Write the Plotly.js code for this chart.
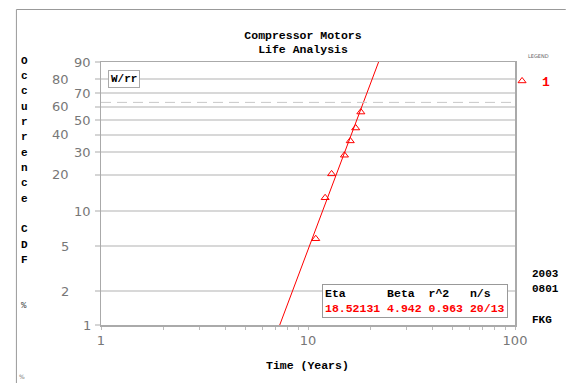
<!DOCTYPE html>
<html>
<head>
<meta charset="utf-8">
<script src="https://cdn.plot.ly/plotly-3.0.1.min.js"></script>
<style>html,body{margin:0;padding:0;background:#fff;}</style>
</head>
<body>
<div id="chart" style="width:567px;height:383px;"></div>
<script>
// ---- data ----
const failTimes = [10.9, 12.1, 13.0, 15.0, 16.0, 17.0, 18.0];      // years
const failCdf   = [5.8, 13.0, 20.4, 28.5, 36.3, 44.5, 55.9];        // occurrence CDF %
const eta = 18.52131;
const beta = 4.942;
const r2 = 0.963;
const nsLabel = "20/13";
const charLifePct = 63.2;
const yTicks = [1, 2, 5, 10, 20, 30, 40, 50, 60, 70, 80, 90];
const yTicksLeftCol = [2, 5, 20, 40, 60, 80];
const xTickVals = [1,2,3,4,5,6,7,8,9,10,20,30,40,50,60,70,80,90,100];
const xTickLabeled = [1, 10, 100];
const yTitleChars = ['O','c','c','u','r','r','e','n','c','e','','C','D','F','','','%'];
const sideNotes = ['2003', '0801', 'FKG'];

// Weibull probability scale
const wt = p => Math.log(-Math.log(1 - p / 100));
const lifeAt = p => eta * Math.pow(-Math.log(1 - p / 100), 1 / beta);

const mono = 'Liberation Mono, Courier New, monospace';
const sans = 'DejaVu Sans, Verdana, sans-serif';

const W = 567, H = 383;
const M = {l: 101, r: 50, t: 62, b: 58};
const pw = W - M.l - M.r, ph = H - M.t - M.b;
const px2x = px => (px - M.l) / pw;
const py2y = py => (H - M.b - py) / ph;

const fitP = [yTicks[0], yTicks[yTicks.length - 1]];

const traces = [
  {
    x: fitP.map(lifeAt), y: fitP.map(wt),
    mode: 'lines', line: {color: '#ff0000', width: 1},
    showlegend: false, hoverinfo: 'skip'
  },
  {
    x: failTimes, y: failCdf.map(wt),
    mode: 'markers', name: '1',
    marker: {symbol: 'triangle-up-open', size: 7, color: '#ff0000', line: {color: '#ff0000', width: 1}},
    showlegend: true
  }
];

const annotations = [];
yTicks.forEach(v => {
  const left = yTicksLeftCol.includes(v);
  annotations.push({
    xref: 'paper', yref: 'y', x: left ? px2x(71) : px2x(93), y: wt(v),
    xanchor: 'right', yanchor: 'middle', showarrow: false,
    text: String(v), font: {family: sans, size: 13, color: '#777'}
  });
});
yTitleChars.forEach((c, i) => {
  if (!c) return;
  const pct = c === '%';
  annotations.push({
    xref: 'paper', yref: 'paper', x: px2x(24), y: py2y(60.7 + i * 15.33),
    xanchor: 'center', yanchor: 'middle', showarrow: false,
    text: c, font: {family: mono, size: pct ? 9 : 11, weight: pct ? 'normal' : 'bold', color: pct ? '#444' : '#000'}
  });
});
const nbsp = s => s.replace(/ /g, '\u00a0');
annotations.push({
  xref: 'paper', yref: 'paper', x: px2x(323), y: py2y(284),
  xanchor: 'left', yanchor: 'top', showarrow: false, align: 'left',
  bordercolor: '#999', borderwidth: 1, borderpad: 2, bgcolor: '#fff',
  text: nbsp('Eta      Beta  r^2   n/s ') + '<br><span style="color:#ff0000">' +
        nbsp(eta.toFixed(5) + ' ' + beta.toFixed(3) + ' ' + r2.toFixed(3) + ' ' + nsLabel) + '</span>',
  font: {family: mono, size: 11.5, weight: 'bold', color: '#000'}
});
annotations.push({
  xref: 'paper', yref: 'paper', x: px2x(108), y: py2y(70),
  xanchor: 'left', yanchor: 'top', showarrow: false,
  bordercolor: '#aaa', borderwidth: 1, borderpad: 2, bgcolor: '#fff',
  text: 'W/rr', font: {family: mono, size: 11, weight: 'bold', color: '#000'}
});
const noteY = [274, 289, 320];
sideNotes.forEach((t, i) => {
  annotations.push({
    xref: 'paper', yref: 'paper', x: px2x(532), y: py2y(noteY[i]),
    xanchor: 'left', yanchor: 'middle', showarrow: false,
    text: t, font: {family: mono, size: 11, weight: 'bold', color: '#000'}
  });
});
annotations.push({
  xref: 'paper', yref: 'paper', x: px2x(528), y: py2y(56),
  xanchor: 'left', yanchor: 'middle', showarrow: false,
  text: 'LEGEND', font: {family: sans, size: 5, color: '#666'}
});
annotations.push({
  xref: 'paper', yref: 'paper', x: px2x(22), y: py2y(376),
  xanchor: 'center', yanchor: 'middle', showarrow: false,
  text: '%', font: {family: sans, size: 6, color: '#777'}
});
annotations.push({
  xref: 'paper', yref: 'paper', x: px2x(308), y: py2y(365),
  xanchor: 'center', yanchor: 'middle', showarrow: false,
  text: 'Time (Years)', font: {family: mono, size: 11.5, weight: 'bold', color: '#000'}
});

const layout = {
  width: W, height: H,
  margin: M,
  paper_bgcolor: '#fff', plot_bgcolor: '#fff',
  title: {
    text: 'Compressor Motors<br>Life Analysis',
    font: {family: mono, size: 11.5, weight: 'bold', color: '#000'},
    x: 303 / W, xanchor: 'center', xref: 'container',
    y: 1 - 38.5 / H, yanchor: 'middle', yref: 'container'
  },
  xaxis: {
    type: 'log', range: [0, 2],
    tickmode: 'array', tickvals: xTickVals,
    ticktext: xTickVals.map(v => xTickLabeled.includes(v) ? String(v) : ''),
    ticks: 'outside', ticklen: 3, tickcolor: '#bbb', tickwidth: 1,
    showgrid: false, zeroline: false,
    showline: true, linecolor: '#aaa', linewidth: 1.5, mirror: true,
    tickfont: {family: sans, size: 13, color: '#777'}
  },
  yaxis: {
    range: [wt(yTicks[0]), wt(yTicks[yTicks.length - 1])],
    tickmode: 'array', tickvals: yTicks.map(wt), showticklabels: false,
    ticks: 'outside', ticklen: 5, tickcolor: '#d5d5d5', tickwidth: 2,
    showgrid: true, gridcolor: '#d8d8d8', gridwidth: 2, zeroline: false,
    showline: true, linecolor: '#aaa', linewidth: 1.5, mirror: true
  },
  showlegend: true,
  legend: {
    x: px2x(504), y: py2y(66), xanchor: 'left', yanchor: 'top',
    bgcolor: 'rgba(0,0,0,0)', borderwidth: 0, itemwidth: 30,
    font: {family: mono, size: 13, weight: 'bold', color: '#ff0000'}
  },
  annotations: annotations,
  shapes: [
    {type: 'line', xref: 'paper', yref: 'y', x0: 0, x1: 1, y0: wt(charLifePct), y1: wt(charLifePct),
     line: {color: '#c8c8c8', width: 1, dash: '10px,6px'}},
    {type: 'line', xref: 'paper', yref: 'paper', x0: px2x(16), x1: px2x(16), y0: py2y(384), y1: py2y(9.5),
     line: {color: '#999', width: 1}},
    {type: 'line', xref: 'paper', yref: 'paper', x0: px2x(16), x1: px2x(568), y0: py2y(9.5), y1: py2y(9.5),
     line: {color: '#999', width: 1}}
  ]
};

Plotly.newPlot('chart', traces, layout, {displayModeBar: false, staticPlot: true});
</script>
</body>
</html>
